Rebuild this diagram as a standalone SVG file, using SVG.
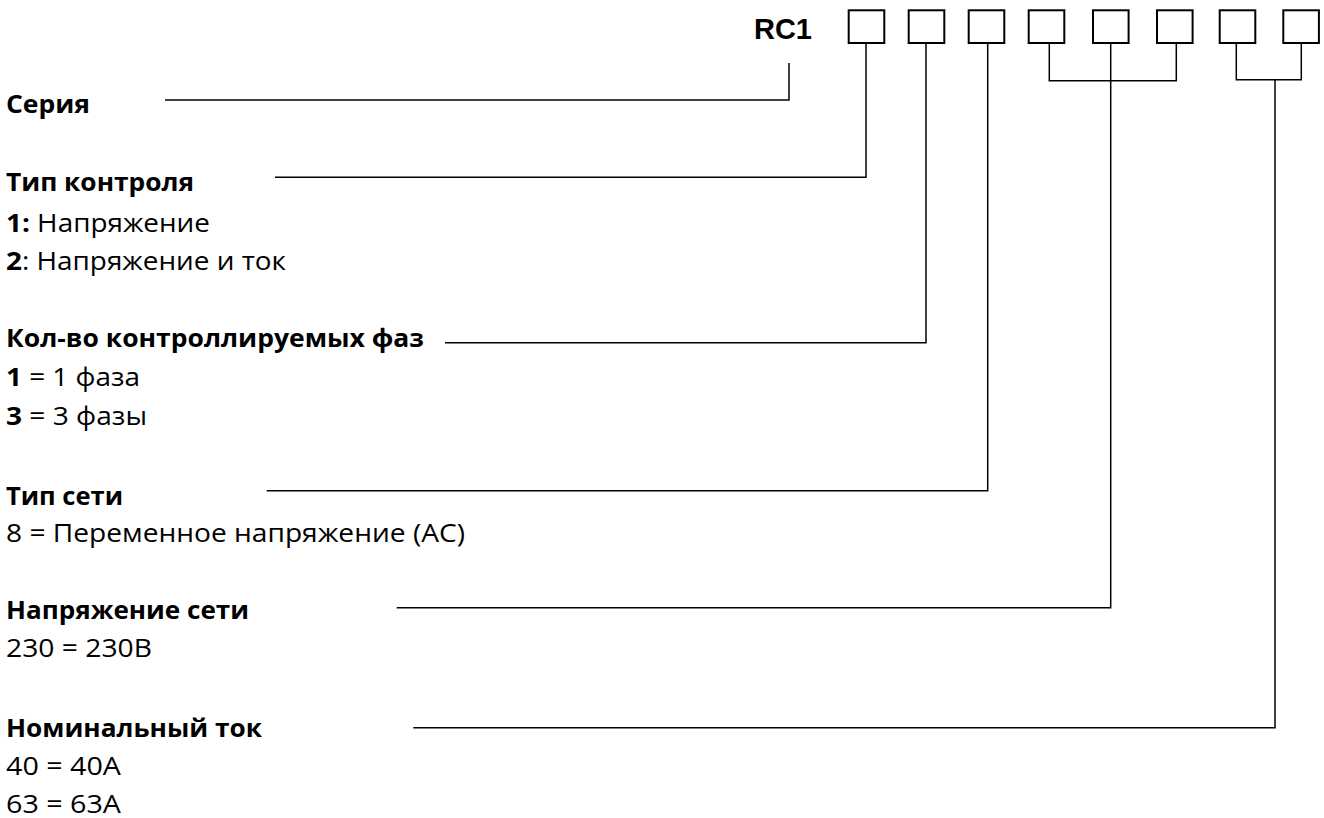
<svg xmlns="http://www.w3.org/2000/svg" width="1324" height="818" viewBox="0 0 1324 818">
<style>
.t{font-family:"Open Sans","Noto Sans",sans-serif;font-size:25px;fill:#000}
.b{font-weight:bold}
.box{fill:#fff;stroke:#000;stroke-width:2}
.ln{fill:none;stroke:#000;stroke-width:1.5}
.rc{font-family:"Liberation Sans",Arial,sans-serif;font-weight:bold;font-size:30px;fill:#000}
</style>
<rect width="1324" height="818" fill="#fff"/>
<g id="code">
<text class="rc" x="754" y="39" textLength="58" lengthAdjust="spacingAndGlyphs">RC1</text>
</g>
<g id="boxes">
<rect id="box1" class="box" x="848.7" y="10.3" width="35.6" height="32.7"/>
<rect id="box2" class="box" x="908.7" y="10.3" width="35.6" height="32.7"/>
<rect id="box3" class="box" x="968.7" y="10.3" width="35.6" height="32.7"/>
<rect id="box4" class="box" x="1028.7" y="10.3" width="35.6" height="32.7"/>
<rect id="box5" class="box" x="1093" y="10.3" width="35.6" height="32.7"/>
<rect id="box6" class="box" x="1157" y="10.3" width="35.6" height="32.7"/>
<rect id="box7" class="box" x="1219.7" y="10.3" width="35.6" height="32.7"/>
<rect id="box8" class="box" x="1283.3" y="10.3" width="35.6" height="32.7"/>
</g>
<g id="labels">
<g id="series"><text class="t b" x="6" y="113" textLength="84" lengthAdjust="spacingAndGlyphs">Серия</text></g>
<g id="control">
<text class="t b" x="6" y="191" textLength="188" lengthAdjust="spacingAndGlyphs">Тип контроля</text>
<text class="t" x="6" y="231.5" textLength="204" lengthAdjust="spacingAndGlyphs"><tspan class="b">1:</tspan> Напряжение</text>
<text class="t" x="6" y="269.5" textLength="280" lengthAdjust="spacingAndGlyphs"><tspan class="b">2</tspan>: Напряжение и ток</text>
</g>
<g id="phases">
<text class="t b" x="6" y="347" textLength="418" lengthAdjust="spacingAndGlyphs">Кол-во контроллируемых фаз</text>
<text class="t" x="6" y="386" textLength="134" lengthAdjust="spacingAndGlyphs"><tspan class="b">1</tspan> = 1 фаза</text>
<text class="t" x="6" y="425" textLength="141" lengthAdjust="spacingAndGlyphs"><tspan class="b">3</tspan> = 3 фазы</text>
</g>
<g id="network">
<text class="t b" x="6" y="505" textLength="117" lengthAdjust="spacingAndGlyphs">Тип сети</text>
<text class="t" x="6" y="542" textLength="459" lengthAdjust="spacingAndGlyphs">8 = Переменное напряжение (АС)</text>
</g>
<g id="voltage">
<text class="t b" x="6" y="619.3" textLength="243" lengthAdjust="spacingAndGlyphs">Напряжение сети</text>
<text class="t" x="6" y="657" textLength="146" lengthAdjust="spacingAndGlyphs">230 = 230В</text>
</g>
<g id="current">
<text class="t b" x="6" y="736.5" textLength="256" lengthAdjust="spacingAndGlyphs">Номинальный ток</text>
<text class="t" x="6" y="775" textLength="115" lengthAdjust="spacingAndGlyphs">40 = 40А</text>
<text class="t" x="6" y="813.3" textLength="115" lengthAdjust="spacingAndGlyphs">63 = 63А</text>
</g>
</g>
<g id="connectors">
<polyline class="ln" points="165,100 789,100 789,63"/>
<polyline class="ln" points="275,177.3 866,177.3 866,44"/>
<polyline class="ln" points="445,342.7 926,342.7 926,44"/>
<polyline class="ln" points="266.7,490.7 987.7,490.7 987.7,44"/>
<polyline class="ln" points="396.7,607.7 1110.7,607.7 1110.7,44"/>
<polyline class="ln" points="1049.3,44 1049.3,80.7 1176.3,80.7 1176.3,44"/>
<polyline class="ln" points="413.3,727.7 1275,727.7 1275,79.7"/>
<polyline class="ln" points="1236.3,44 1236.3,79.7 1301.3,79.7 1301.3,44"/>
</g>
</svg>
